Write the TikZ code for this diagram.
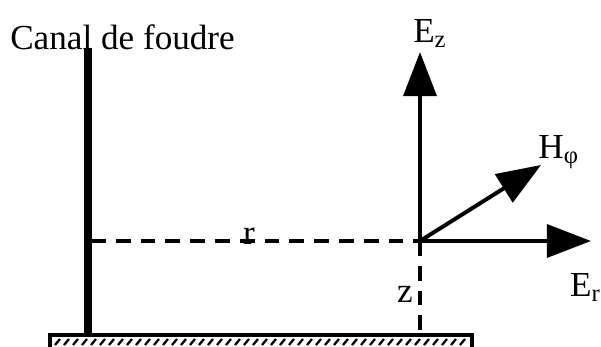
\documentclass[tikz,border=0pt]{standalone}
\usepackage{fontspec}
\setmainfont{Liberation Serif}
\usetikzlibrary{arrows.meta,positioning}

\begin{document}
\begin{tikzpicture}[
  x=0.025cm, y=0.025cm,
  every node/.style={font=\fontsize{25}{30}\selectfont, inner sep=1pt},
  vec/.style={line width=2.8pt, -{Triangle[length=1.1cm, width=0.82cm]}},
  dashline/.style={line width=2.4pt, dash pattern=on 0.37cm off 0.25cm},
  channel/.style={line width=5.5pt},
  ground/.style={draw, line width=2.2pt, fill=white}
]
\useasboundingbox (0,0) rectangle (601,347);
%% ground strip
\draw[ground] (50,-4) rectangle (472,12);
\foreach \x in {55,64,...,466}
  \draw[line width=1.6pt] (\x,2) -- (\x+5,8);
%% lightning channel
\coordinate (chtop) at (88,299);
\coordinate (chbot) at (88,12);
\draw[channel] (chtop) -- (chbot);
\node[anchor=south west, inner sep=0pt] (canal) at (10,297) {Canal de foudre};
%% observation point
\coordinate (O) at (420,106);
\coordinate (rstart) at (91,106);
\coordinate (zend) at (420,14);
\draw[dashline] (rstart) -- node[pos=0.48, above=-5pt] (r) {r} (O);
\draw[dashline] (O) -- node[pos=0.58, left=3pt] (z) {z} (zend);
%% field vectors
\coordinate (Eztip) at (420,295);
\coordinate (Ertip) at (591,106);
\coordinate (Htip) at (541,182);
\draw[vec] (O) -- (Eztip);
\draw[vec] (O) -- (Ertip);
\draw[vec] (O) -- (Htip);
\node[above right=2pt and -6pt of Eztip] (Ez) {E\textsubscript{z}};
\node[below=22pt of Ertip, anchor=north east, xshift=8pt] (Er) {E\textsubscript{r}};
\node[anchor=south west, xshift=-3pt, yshift=-4pt] (Hphi) at (Htip) {H\textsubscript{φ}};
\end{tikzpicture}
\end{document}
